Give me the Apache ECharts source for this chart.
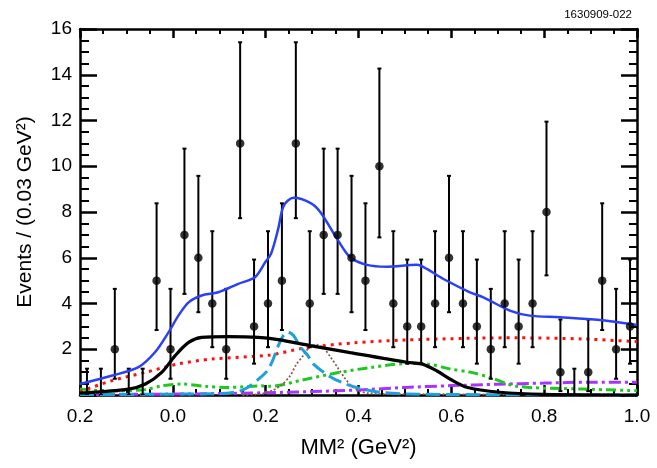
<!DOCTYPE html>
<html>
<head>
<meta charset="utf-8">
<script src="https://cdn.jsdelivr.net/npm/echarts@6/dist/echarts.min.js"></script>
<style>
  html, body { margin: 0; padding: 0; background: #fff; }
  #chart { width: 657px; height: 468px; }
</style>
</head>
<body>
<div id="chart"></div>
<script>
// bin centres (0.03 GeV^2 bins from -0.2 to 1.0)
var binX = [-0.185, -0.155, -0.125, -0.095, -0.065, -0.035, -0.005, 0.025, 0.055, 0.085,
            0.115, 0.145, 0.175, 0.205, 0.235, 0.265, 0.295, 0.325, 0.355, 0.385,
            0.415, 0.445, 0.475, 0.505, 0.535, 0.565, 0.595, 0.625, 0.655, 0.685,
            0.715, 0.745, 0.775, 0.805, 0.835, 0.865, 0.895, 0.925, 0.955, 0.985];
var counts = [0, 0, 2, 0, 0, 5, 2, 7, 6, 4,
              2, 11, 3, 4, 5, 11, 4, 7, 7, 6,
              5, 10, 4, 3, 3, 4, 6, 4, 3, 2,
              4, 3, 4, 8, 1, 0, 1, 5, 2, 3];
// error bar ends
var errLow = [0, 0, 0.71, 0, 0, 2.84, 0.71, 4.42, 3.62, 2.09,
              0.71, 7.73, 1.37, 2.09, 2.84, 7.73, 2.09, 4.42, 4.42, 3.62,
              2.84, 6.89, 2.09, 1.37, 1.37, 2.09, 3.62, 2.09, 1.37, 0.71,
              2.09, 1.37, 2.09, 5.23, 0.17, 0, 0.17, 2.84, 0.71, 1.37];
var errHigh = [1.15, 1.15, 4.64, 1.15, 1.15, 8.38, 4.64, 10.77, 9.58, 7.16,
               4.64, 15.42, 5.92, 7.16, 8.38, 15.42, 7.16, 10.77, 10.77, 9.58,
               8.38, 14.27, 7.16, 5.92, 5.92, 7.16, 9.58, 7.16, 5.92, 4.64,
               7.16, 5.92, 7.16, 11.95, 3.30, 1.15, 3.30, 8.38, 4.64, 5.92];

// fit components
var totalFit = [[-0.2,0.48],[-0.13,0.85],[-0.074,1.22],[-0.038,1.88],[-0.009,2.75],[0.012,3.47],
  [0.034,4.05],[0.062,4.35],[0.098,4.49],[0.141,4.86],[0.177,5.15],[0.199,5.8],[0.212,6.2],
  [0.227,7.26],[0.239,8.28],[0.26,8.62],[0.296,8.4],[0.318,7.99],[0.354,6.82],[0.382,6.02],
  [0.418,5.69],[0.461,5.61],[0.526,5.69],[0.547,5.51],[0.583,5.07],[0.64,4.49],[0.669,4.27],
  [0.726,3.69],[0.769,3.47],[0.834,3.40],[0.92,3.28],[1.0,3.06]];
var signal = [[-0.2,0.08],[-0.095,0.26],[-0.059,0.48],[-0.024,0.99],[0.005,1.72],[0.034,2.3],
  [0.062,2.52],[0.12,2.55],[0.184,2.52],[0.227,2.42],[0.296,2.16],[0.382,1.85],[0.504,1.43],
  [0.536,1.36],[0.569,1.05],[0.597,0.7],[0.633,0.34],[0.705,0.12],[0.8,0.03],[1.0,0.0]];
var bkgRed = [[-0.2,0.15],[-0.131,0.63],[-0.059,0.99],[0.012,1.36],[0.084,1.57],[0.21,1.75],
  [0.282,2.05],[0.389,2.28],[0.497,2.4],[0.64,2.48],[0.741,2.5],[0.884,2.45],[1.0,2.33]];
var bkgGreen = [[-0.2,0.26],[-0.13,0.17],[-0.059,0.24],[-0.024,0.4],[0.019,0.48],[0.07,0.38],
  [0.12,0.33],[0.191,0.4],[0.21,0.38],[0.282,0.67],[0.354,0.97],[0.425,1.2],[0.511,1.38],
  [0.548,1.36],[0.597,1.14],[0.64,1.0],[0.683,0.77],[0.741,0.38],[0.884,0.26],[1.0,0.19]];
var peakCyan = [[-0.2,0.02],[0.1,0.06],[0.14,0.15],[0.163,0.35],[0.185,0.7],[0.203,1.05],
  [0.215,1.5],[0.227,2.15],[0.238,2.6],[0.248,2.75],[0.26,2.6],[0.275,2.09],[0.29,1.75],
  [0.303,1.35],[0.339,0.8],[0.37,0.5],[0.404,0.28],[0.447,0.12],[0.5,0.05],[0.6,0.02],[1.0,0.0]];
var peakBrown = [[0.15,0.0],[0.19,0.05],[0.215,0.2],[0.235,0.45],[0.253,0.85],[0.265,1.3],
  [0.28,1.7],[0.295,2.1],[0.31,2.2],[0.325,2.05],[0.34,1.65],[0.355,1.2],[0.37,0.75],
  [0.385,0.4],[0.4,0.2],[0.42,0.08],[0.5,0.04],[1.0,0.02]];
var bkgPurple = [[-0.2,0.02],[0.0,0.04],[0.1,0.06],[0.2,0.1],[0.3,0.15],[0.4,0.22],[0.5,0.33],
  [0.6,0.41],[0.7,0.47],[0.8,0.52],[0.9,0.56],[1.0,0.56]];

var xTickLabels = {'-0.2': '0.2', '0': '0.0', '0.2': '0.2', '0.4': '0.4', '0.6': '0.6', '0.8': '0.8', '1': '1.0'};

var font = 'Liberation Sans, Arial, Helvetica, sans-serif';

var points = [], bars = [];
for (var i = 0; i < binX.length; i++) {
  if (counts[i] > 0) points.push([binX[i], counts[i]]);
  bars.push([binX[i], errLow[i], errHigh[i]]);
}

function curve(name, data, color, width, type, z) {
  return {
    name: name, type: 'line', data: data, smooth: 0.3, showSymbol: false,
    symbol: 'none', silent: true, z: z || 3, clip: true,
    lineStyle: {color: color, width: width, type: type}
  };
}

var chart = echarts.init(document.getElementById('chart'));
var xCommon = {
  type: 'value', min: -0.2, max: 1.0, interval: 0.2,
  axisLine: {show: true, onZero: false, lineStyle: {color: '#000', width: 2.5}},
  splitLine: {show: false}
};
var yCommon = {
  type: 'value', min: 0, max: 16, interval: 2,
  axisLine: {show: true, onZero: false, lineStyle: {color: '#000', width: 2.5}},
  splitLine: {show: false}
};

chart.setOption({
  animation: false,
  backgroundColor: '#fff',
  title: {
    text: '1630909-022', right: 20, top: 4,
    textStyle: {fontFamily: font, fontSize: 11.5, fontWeight: 'normal', color: '#000'}
  },
  grid: {left: 80, right: 20, top: 29, bottom: 73},
  xAxis: [
    Object.assign({}, xCommon, {
      position: 'bottom',
      name: 'MM\u00b2 (GeV\u00b2)', nameLocation: 'middle', nameGap: 42,
      nameTextStyle: {fontFamily: font, fontSize: 22, color: '#000'},
      axisTick: {show: true, inside: true, length: 10, lineStyle: {color: '#000', width: 2.5}},
      minorTick: {show: true, splitNumber: 4, length: 6, lineStyle: {color: '#000', width: 2}},
      axisLabel: {
        fontFamily: font, fontSize: 19, color: '#000', margin: 12,
        formatter: function (v) { var k = String(Math.round(v * 10) / 10); return xTickLabels[k] !== undefined ? xTickLabels[k] : ''; }
      }
    }),
    Object.assign({}, xCommon, {
      position: 'top',
      axisTick: {show: true, inside: true, length: 9, lineStyle: {color: '#000', width: 2.5}},
      minorTick: {show: true, splitNumber: 4, length: 5, lineStyle: {color: '#000', width: 2}},
      axisLabel: {show: false}
    })
  ],
  yAxis: [
    Object.assign({}, yCommon, {
      position: 'left',
      name: 'Events / (0.03 GeV\u00b2)', nameLocation: 'middle', nameGap: 44,
      nameTextStyle: {fontFamily: font, fontSize: 21, color: '#000'},
      axisTick: {show: true, inside: true, length: 17, lineStyle: {color: '#000', width: 2.5}},
      minorTick: {show: true, splitNumber: 4, length: 9, lineStyle: {color: '#000', width: 2}},
      axisLabel: {
        fontFamily: font, fontSize: 19, color: '#000', margin: 8,
        formatter: function (v) { return v === 0 ? '' : String(v); }
      }
    }),
    Object.assign({}, yCommon, {
      position: 'right',
      axisTick: {show: true, inside: true, length: 16, lineStyle: {color: '#000', width: 2.5}},
      minorTick: {show: true, splitNumber: 4, length: 8, lineStyle: {color: '#000', width: 2}},
      axisLabel: {show: false}
    })
  ],
  series: [
    {
      type: 'custom', data: bars, z: 4, silent: true, clip: true,
      renderItem: function (params, api) {
        var x = api.value(0);
        var lo = api.coord([x, api.value(1)]);
        var hi = api.coord([x, api.value(2)]);
        var st = {stroke: '#000', lineWidth: 2};
        return {
          type: 'group',
          children: [
            {type: 'line', shape: {x1: lo[0], y1: lo[1], x2: hi[0], y2: hi[1]}, style: st},
            {type: 'line', shape: {x1: hi[0] - 2, y1: hi[1], x2: hi[0] + 2, y2: hi[1]}, style: st},
            {type: 'line', shape: {x1: lo[0] - 2, y1: lo[1], x2: lo[0] + 2, y2: lo[1]}, style: st}
          ]
        };
      }
    },
    curve('purple', bkgPurple, '#a633ff', 3, [12, 4, 3, 4]),
    curve('green', bkgGreen, '#1ec81e', 3, [10, 4, 3, 4, 3, 4]),
    curve('red', bkgRed, '#ff1010', 3, [3, 5]),
    curve('brown', peakBrown, '#8c6050', 1.8, [2, 2]),
    curve('cyan', peakCyan, '#1ea0dc', 3, [14, 6]),
    curve('signal', signal, '#000', 3.2, 'solid'),
    curve('total', totalFit, '#2a40f5', 2.5, 'solid', 5),
    {
      type: 'scatter', data: points, symbol: 'circle', symbolSize: 8.5, z: 6,
      itemStyle: {color: '#000'}, silent: true
    }
  ]
});
</script>
</body>
</html>
